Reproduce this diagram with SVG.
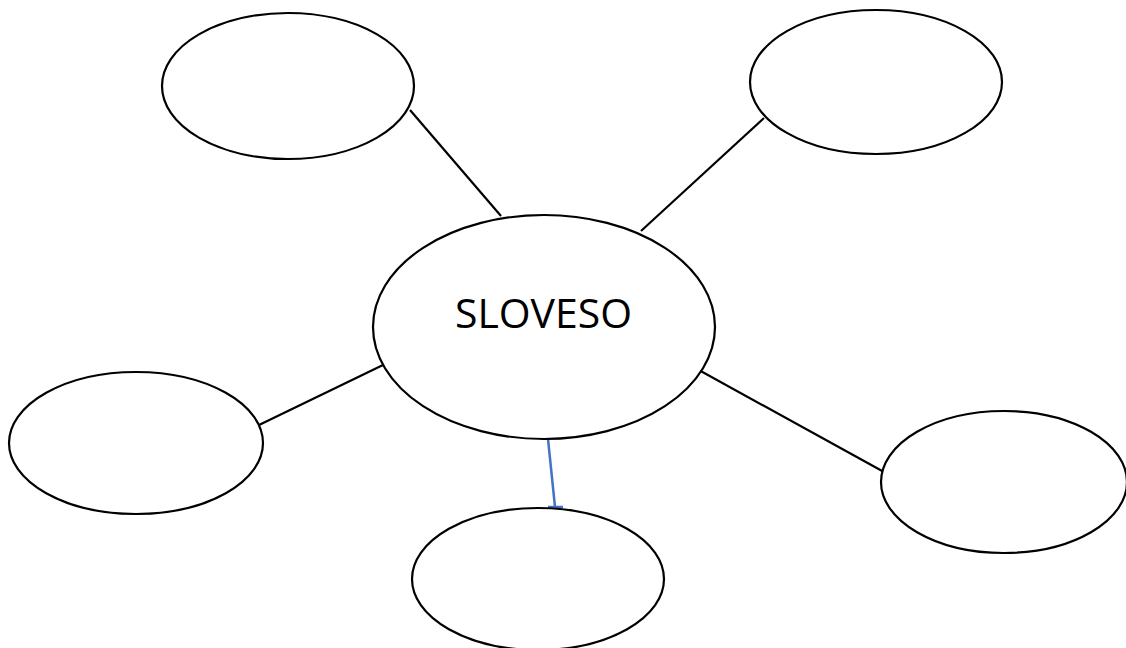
<svg xmlns="http://www.w3.org/2000/svg" width="1126" height="648" viewBox="0 0 1126 648">
<style>
.n{fill:#fff;stroke:#000;stroke-width:2.2}
.c{stroke:#000;stroke-width:2.2;fill:none}
.b{stroke:#4472C4;stroke-width:2.5;fill:none}
.t{font-family:"Open Sans","Liberation Sans",sans-serif;font-size:41px;fill:#000}
</style>
<rect width="1126" height="648" fill="#fff"/>
<g id="connectors">
<line class="c" x1="410" y1="110" x2="501" y2="216"/>
<line class="c" x1="764" y1="118" x2="641" y2="231"/>
<line class="c" x1="383" y1="365" x2="259" y2="425"/>
<line class="c" x1="697" y1="369" x2="884" y2="472"/>
<line class="b" x1="548" y1="439" x2="555" y2="507"/>
<line class="b" x1="548" y1="507" x2="563" y2="507"/>
</g>
<g id="n-center"><ellipse class="n" cx="544" cy="327" rx="171" ry="112"/><text class="t" x="455" y="328" textLength="177" lengthAdjust="spacingAndGlyphs">SLOVESO</text></g>
<g id="n-tl"><ellipse class="n" cx="288" cy="86" rx="126" ry="73"/></g>
<g id="n-tr"><ellipse class="n" cx="876" cy="82" rx="126" ry="72"/></g>
<g id="n-l"><ellipse class="n" cx="136" cy="443" rx="127" ry="71"/></g>
<g id="n-r"><ellipse class="n" cx="1004" cy="482" rx="123" ry="71"/></g>
<g id="n-b"><ellipse class="n" cx="538" cy="579" rx="126" ry="71"/></g>
</svg>
